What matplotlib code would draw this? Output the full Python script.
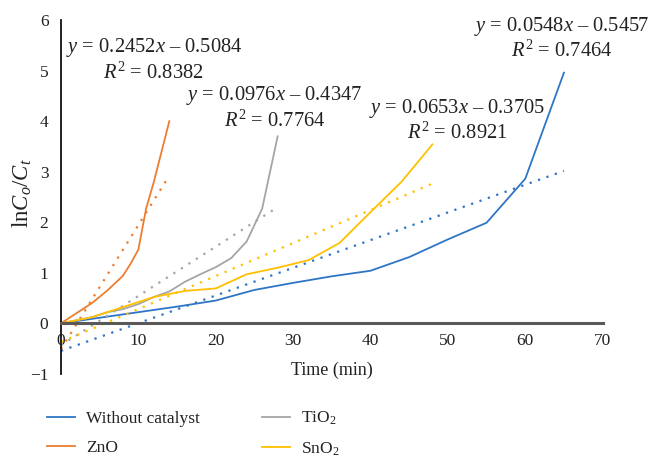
import matplotlib.pyplot as plt

plt.rcParams["font.family"] = "Liberation Serif"
plt.rcParams["mathtext.fontset"] = "custom"
plt.rcParams["mathtext.rm"] = "Liberation Serif"
plt.rcParams["mathtext.it"] = "Liberation Serif:italic"

# data
x_blank = [0, 5, 10, 15, 20, 25, 30, 35, 40, 45, 50, 55, 60, 65]
y_blank = [0, 0.11, 0.22, 0.33, 0.45, 0.66, 0.8, 0.93, 1.04, 1.31, 1.66, 1.99, 2.86, 4.96]

x_zno = [0, 2, 4, 6, 8, 9, 10, 11, 12, 14]
y_zno = [0, 0.2, 0.4, 0.65, 0.94, 1.18, 1.46, 2.27, 2.8, 4.0]

x_tio2 = [0, 4, 6, 8, 10, 12, 14, 16, 18, 20, 22, 24, 26, 28]
y_tio2 = [0, 0.12, 0.22, 0.28, 0.38, 0.52, 0.63, 0.82, 0.97, 1.11, 1.29, 1.62, 2.27, 3.7]

x_sno2 = [0, 4, 8, 12, 16, 20, 24, 28, 32, 36, 40, 44, 48]
y_sno2 = [0, 0.12, 0.32, 0.52, 0.64, 0.69, 0.97, 1.1, 1.25, 1.59, 2.2, 2.8, 3.54]

# linear trend coefficients (slope, intercept, R2) as printed on the chart
fits = {
    "blank": (0.0548, -0.5457, 0.7464),
    "zno": (0.2452, -0.5084, 0.8382),
    "tio2": (0.0976, -0.4347, 0.7764),
    "sno2": (0.0653, -0.3705, 0.8921),
}

colors = {"blank": "#2E75C6", "zno": "#ED7D31", "tio2": "#A5A5A5", "sno2": "#FFC000"}
series = [
    ("blank", "Without catalyst", x_blank, y_blank),
    ("zno", "ZnO", x_zno, y_zno),
    ("tio2", r"TiO$_2$", x_tio2, y_tio2),
    ("sno2", r"SnO$_2$", x_sno2, y_sno2),
]
# label anchor (data coords) for each equation block
eq_pos = {"blank": (64.7, 5.88), "zno": (12.0, 5.45), "tio2": (27.6, 4.5), "sno2": (51.2, 4.26)}

fig = plt.figure(figsize=(6.51, 4.57), dpi=100)
ax = fig.add_axes([0.0937, 0.182, 0.832, 0.774])

for key, label, xs, ys in series:
    c = colors[key]
    ax.plot(xs, ys, color=c, lw=1.3, label=label)
    m, b, r2 = fits[key]
    tx = [xs[0], xs[-1]]
    ax.plot(tx, [m * t + b for t in tx], color=c, lw=1.6, ls=(0, (1, 3)))
    ex, ey = eq_pos[key]
    ax.text(ex, ey, "$y$ = %.4f$x$ – %.4f" % (m, -b), ha="center", va="center",
            fontsize=14.8, color="#222222")
    ax.text(ex, ey - 0.5, "$R^2$ = %.4f" % r2, ha="center", va="center",
            fontsize=14.8, color="#222222")

ax.set_xlim(0, 70)
ax.set_ylim(-1, 6)
ax.set_xticks(range(0, 71, 10))
ax.set_yticks(range(-1, 7))
ax.set_yticklabels(["−1"] + [str(i) for i in range(0, 7)])
ax.tick_params(length=0, labelsize=12.5, colors="#222222")
ax.tick_params(axis="x", pad=7)
ax.tick_params(axis="y", pad=9)

for s in ["top", "right"]:
    ax.spines[s].set_visible(False)
ax.spines["bottom"].set_position(("data", 0))
ax.spines["bottom"].set_color("#595959")
ax.spines["bottom"].set_linewidth(2.2)
ax.spines["left"].set_color("#111111")
ax.spines["left"].set_linewidth(1.3)

ax.set_xlabel("Time (min)", fontsize=13, color="#222222")
ax.xaxis.set_label_coords(0.5, 0.035)
ax.set_ylabel(r"ln$C_o/C_t$", fontsize=16.5, color="#222222")
ax.yaxis.set_label_coords(-0.05, 0.51)

fig.legend(loc="upper left", bbox_to_anchor=(0.072, 0.103), ncol=2, frameon=False,
           fontsize=12.5, handlelength=1.6, handletextpad=0.65, columnspacing=3.6,
           labelspacing=0.75, borderpad=0, borderaxespad=0, labelcolor="#222222")

fig.savefig("out.png", dpi=100)
